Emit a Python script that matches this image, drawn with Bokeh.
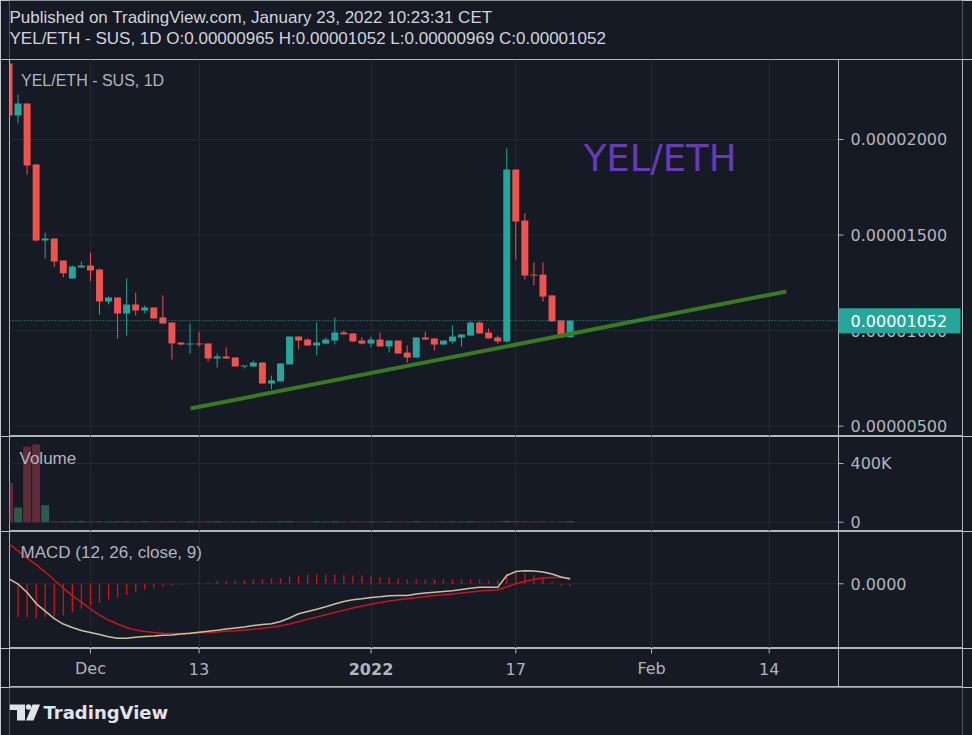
from bokeh.plotting import figure
from bokeh.layouts import column
from bokeh.models import (ColumnDataSource, Range1d, FixedTicker, Grid, Span, Label)
from bokeh.core.properties import value
from bokeh.embed import file_html
from bokeh.resources import INLINE

# ---------------- data (prices in units of 1e-8 ETH), day index 0 = 2021-11-22 ----------------
days = list(range(63))
opens = [2398, 2126, 2188, 1869, 1471, 1482, 1367, 1273, 1330, 1341,
         1320, 1152, 1173, 1089, 1137, 1105, 1121, 1068, 1042, 938,
         927, 932, 932, 854, 864, 859, 812, 812, 833, 723,
         734, 823, 969, 953, 922, 932, 948, 990, 985, 948,
         932, 953, 917, 948, 885, 859, 964, 959, 927, 943,
         964, 974, 1042, 990, 964, 943, 1843, 1576, 1293, 1293,
         1184, 1053, 965]
highs = [2398, 2235, 2188, 1873, 1513, 1482, 1367, 1341, 1362, 1409,
         1325, 1178, 1173, 1273, 1199, 1131, 1121, 1184, 1042, 938,
         1037, 995, 932, 880, 912, 859, 817, 843, 833, 765,
         828, 969, 969, 959, 1042, 964, 1068, 1000, 985, 964,
         969, 990, 948, 948, 922, 964, 995, 959, 948, 1027,
         980, 1048, 1048, 1011, 974, 1953, 1843, 1613, 1356, 1356,
         1184, 1053, 1052]
lows = [2126, 2085, 1817, 1466, 1377, 1332, 1279, 1273, 1330, 1257,
        1084, 1137, 959, 974, 1079, 1089, 1063, 1037, 849, 922,
        880, 917, 838, 807, 854, 812, 802, 812, 723, 692,
        734, 823, 901, 922, 870, 932, 927, 980, 943, 927,
        912, 917, 885, 880, 833, 859, 953, 896, 927, 932,
        917, 974, 985, 959, 932, 938, 1372, 1267, 1236, 1152,
        1048, 964, 965]
closes = [2126, 2188, 1864, 1471, 1482, 1362, 1300, 1335, 1341, 1314,
          1152, 1173, 1089, 1137, 1105, 1121, 1063, 1037, 932, 927,
          932, 927, 854, 864, 854, 812, 817, 833, 723, 739,
          828, 969, 948, 922, 938, 953, 990, 980, 943, 932,
          953, 917, 948, 880, 859, 964, 953, 927, 948, 969,
          980, 1042, 985, 959, 943, 1843, 1571, 1288, 1288, 1178,
          1048, 964, 1052]
volumes = [267000, 101000, 515000, 529000, 115000,
           7000, 6000, 6000, 8000, 6000, 7000, 5000, 8000, 6000, 5000,
           6000, 5000, 7000, 8000, 5000, 6000, 5000, 7000, 6000, 5000,
           6000, 5000, 6000, 7000, 6000, 7000, 8000, 6000, 5000, 6000,
           5000, 7000, 5000, 6000, 5000, 6000, 5000, 6000, 6000, 5000,
           7000, 5000, 6000, 5000, 6000, 5000, 7000, 6000, 5000, 6000,
           9000, 8000, 7000, 6000, 6000, 5000, 6000, 7000]
# MACD values in units of 1e-8
macd_line = [20, -1, -35, -79, -109, -139, -161, -175, -187, -195,
             -203, -212, -218, -218, -214, -211, -209, -206, -205, -201,
             -198, -194, -190, -186, -181, -177, -173, -167, -163, -160,
             -151, -137, -120, -111, -102, -92, -81, -71, -64, -60,
             -55, -52, -48, -47, -47, -41, -37, -34, -31, -28,
             -23, -18, -14, -14, -14, 33, 49, 52, 51, 47,
             39, 27, 19]
signal_line = [160, 132, 103, 77, 47, 15, -17, -47, -73, -100,
               -125, -145, -161, -175, -185, -191, -195, -198, -199, -199,
               -199, -196, -195, -193, -190, -188, -185, -182, -178, -174,
               -168, -161, -152, -142, -133, -124, -115, -106, -97, -89,
               -82, -75, -69, -64, -60, -56, -51, -47, -44, -41,
               -37, -33, -29, -26, -24, -12, 0, 10, 18, 23,
               25, 25, 24]
macd_hist = [-140, -134, -134, -138, -134, -131, -127, -114, -100, -87,
             -76, -64, -56, -44, -34, -24, -16, -11, -7, -4,
             -2, 4, 5, 10, 11, 13, 14, 18, 18, 21,
             22, 30, 32, 37, 37, 37, 37, 37, 33, 33,
             29, 25, 25, 21, 17, 17, 17, 17, 17, 17,
             17, 17, 17, 13, 13, 41, 46, 41, 33, 25,
             9, -7, -10]

time_ticks = [9, 21, 40, 56, 71, 84]
time_labels = ["Dec", "13", "2022", "17", "Feb", "14"]
time_label_styles = ["normal", "normal", "bold", "normal", "normal", "normal"]
price_ticks = [500, 1000, 1500, 2000]
price_labels = ["0.00000500", "0.00001000", "0.00001500", "0.00002000"]
vol_ticks = [0, 400000]
vol_labels = ["0", "400K"]
macd_ticks = [0]
macd_labels = ["0.0000"]
last_price = 1052
last_price_label = "0.00001052"
trend_x = [20.06, 85.9]
trend_y = [592, 1205]

header1 = "Published on TradingView.com, January 23, 2022 10:23:31 CET"
header2 = "YEL/ETH - SUS, 1D  O:0.00000965 H:0.00001052 L:0.00000969 C:0.00001052"
footer_text = "TradingView"

# ---------------- styles ----------------
BG = "#161a25"
GRID = "#252935"
BORDER = "#b2b5be"
TXT = "#b2b5be"
HEAD = "#d1d4dc"
UP = "#26a69a"
DOWN = "#ef5350"
VUP = "#2c5b4c"
VDOWN = "#5f2b37"
TREND = "#3a7a1f"
AXF = "DejaVu Sans"
LEGF = "Liberation Sans"

PX_DAY = 9.05                 # pixels per day
AXIS_COL = (838 - 8.5) / PX_DAY   # day position of the price-axis separator
TICK_LEN = 5 / PX_DAY

up_flags = [c >= o for o, c in zip(opens, closes)]
src = ColumnDataSource(dict(
    x=days, o=opens, h=highs, l=lows, c=closes,
    top=[max(o, c) for o, c in zip(opens, closes)],
    bot=[min(o, c) for o, c in zip(opens, closes)],
    color=[UP if u else DOWN for u in up_flags],
    vcolor=[VUP if u else VDOWN for u in up_flags],
    v=volumes, macd=macd_line, sig=signal_line, hist=macd_hist,
))

x_range = Range1d(0.5 / PX_DAY, (962 - 8.5) / PX_DAY)


def pane(height, y_range):
    p = figure(width=972, height=height, x_range=x_range, y_range=y_range,
               x_axis_location=None, y_axis_location="right",
               toolbar_location=None, output_backend="svg",
               min_border_left=9, min_border_right=10,
               min_border_top=0, min_border_bottom=0,
               background_fill_color=BG, border_fill_color=BG,
               outline_line_color=BORDER, outline_line_width=1)
    p.grid.visible = False
    p.add_layout(Grid(dimension=0, ticker=FixedTicker(ticks=time_ticks),
                      grid_line_color=GRID, grid_line_width=1))
    p.add_layout(Span(location=AXIS_COL, dimension="height",
                      line_color=BORDER, line_width=1))
    return p


def price_axis(p, ticks, labels):
    ax = p.yaxis[0]
    ax.ticker = FixedTicker(ticks=ticks)
    ax.major_label_overrides = {t: s for t, s in zip(ticks, labels)}
    ax.axis_line_color = None
    ax.major_tick_line_color = None
    ax.minor_tick_line_color = None
    ax.major_tick_out = 0
    ax.major_tick_in = 0
    ax.major_label_standoff = -112
    ax.major_label_text_font = AXF
    ax.major_label_text_font_size = "16px"
    ax.major_label_text_color = TXT
    # horizontal grid limited to the chart area, and small tick marks
    p.segment(x0=[x_range.start] * len(ticks), x1=[AXIS_COL] * len(ticks),
              y0=ticks, y1=ticks, line_color=GRID, line_width=1)
    p.segment(x0=[AXIS_COL] * len(ticks), x1=[AXIS_COL + TICK_LEN] * len(ticks),
              y0=ticks, y1=ticks, line_color=BORDER, line_width=1)


def lab(p, x, y, text, size, color=TXT, font=LEGF, style="normal"):
    p.add_layout(Label(x=x, y=y, x_units="screen", y_units="screen", text=text,
                       text_font=font, text_font_size=size, text_color=color,
                       text_font_style=style, text_baseline="middle", text_align="left"))


def plain(height, y_range):
    p = figure(width=972, height=height, x_range=Range1d(9, 962), y_range=y_range,
               toolbar_location=None, output_backend="svg",
               min_border_left=9, min_border_right=10, min_border_top=0, min_border_bottom=0,
               x_axis_location=None, y_axis_location=None,
               background_fill_color=BG, border_fill_color=BG, outline_line_color=None)
    p.grid.visible = False
    return p


# ---------------- header (page y 0..59) ----------------
pH = plain(59, Range1d(59, 0))
lab(pH, 0, 59 - 17, header1, "17px", HEAD)
lab(pH, 0, 59 - 38, header2, "17px", HEAD)

# ---------------- price pane (page y 59..436) ----------------
pA = pane(377, Range1d(445.8, 2418.6))
price_axis(pA, price_ticks, price_labels)
pA.segment(x0="x", y0="l", x1="x", y1="h", color="color", line_width=1, source=src)
pA.vbar(x="x", top="top", bottom="bot", width=0.77, fill_color="color",
        line_color=None, source=src)
pA.line(trend_x, trend_y, line_color=TREND, line_width=4)
pA.segment(x0=[x_range.start], x1=[AXIS_COL], y0=[last_price], y1=[last_price],
           line_color=UP, line_dash="1 2", line_width=1)
pA.add_layout(Label(x=63.5, y=1903, text="YEL/ETH", text_font=AXF,
                    text_font_size="37px", text_color="#673ab7",
                    text_baseline="middle"))
lab(pA, 11.5, 436 - 80, "YEL/ETH - SUS, 1D", "16px", TXT)
# last price tag in the axis column
units_per_px = (2418.6 - 445.8) / 377
tag = pA.quad(left=[AXIS_COL], right=[(960 - 8.5) / PX_DAY],
              bottom=[last_price - 12.5 * units_per_px], top=[last_price + 12.5 * units_per_px],
              fill_color=UP, line_color=None)
tag.level = "overlay"
tag_txt = pA.text(x=[AXIS_COL + 12 / PX_DAY], y=[last_price], text=[last_price_label],
                  text_font=value(AXF), text_font_size="16px", text_color="#ffffff",
                  text_baseline="middle", text_align="left")
tag_txt.level = "overlay"

# ---------------- volume pane (page y 436..531) ----------------
pB = pane(95, Range1d(-63000, 584000))
price_axis(pB, vol_ticks, vol_labels)
pB.vbar(x="x", top="v", bottom=0, width=0.88, fill_color="vcolor",
        line_color=None, source=src)
lab(pB, 10, 531 - 458, "Volume", "17px", TXT)

# ---------------- MACD pane (page y 531..648) ----------------
pC = pane(117, Range1d(-258.8, 209.2))
price_axis(pC, macd_ticks, macd_labels)
pC.vbar(x="x", top="hist", bottom=0, width=0.15, fill_color="#d40f0f",
        line_color=None, source=src)
pC.line(x="x", y="sig", line_color="#c4161c", line_width=1.5, source=src)
pC.line(x="x", y="macd", line_color="#c9c1a0", line_width=1.5, source=src)
lab(pC, 11, 648 - 552, "MACD (12, 26, close, 9)", "17px", TXT)

# ---------------- time scale row (page y 648..687) ----------------
pT = figure(width=972, height=39, x_range=x_range, y_range=Range1d(39, 0),
            toolbar_location=None, output_backend="svg",
            min_border_left=9, min_border_right=10, min_border_top=0, min_border_bottom=0,
            x_axis_location=None, y_axis_location=None,
            background_fill_color=BG, border_fill_color=BG,
            outline_line_color=BORDER, outline_line_width=1)
pT.grid.visible = False
pT.add_layout(Span(location=AXIS_COL, dimension="height", line_color=BORDER, line_width=1))
tsrc = ColumnDataSource(dict(x=time_ticks, text=time_labels, style=time_label_styles))
pT.segment(x0="x", x1="x", y0=0, y1=5, line_color=BORDER, line_width=1, source=tsrc)
pT.text(x="x", y=20, text="text", text_font=value(AXF), text_font_size="16px",
        text_font_style="style", text_color=TXT, text_align="center",
        text_baseline="middle", source=tsrc)

# ---------------- footer (page y 687..735) ----------------
pF = plain(48, Range1d(735, 687))
LOGO = "#e0e3eb"
pF.patches(xs=[[9, 24.5, 24.5, 16.5, 16.5, 9], [32, 39.5, 33, 25.5]],
           ys=[[704, 704, 720, 720, 709.5, 709.5], [704, 704, 720, 720]],
           fill_color=LOGO, line_color=None)
pF.scatter(x=[28], y=[706.5], size=5.5, fill_color=LOGO, line_color=None)
pF.text(x=[43], y=[712], text=[footer_text], text_font=value(AXF), text_font_size="18px",
        text_font_style="bold", text_color=LOGO, text_baseline="middle")

layout = column(pH, pA, pB, pC, pT, pF, spacing=0)
open("out.html", "w").write(file_html(layout, INLINE))
